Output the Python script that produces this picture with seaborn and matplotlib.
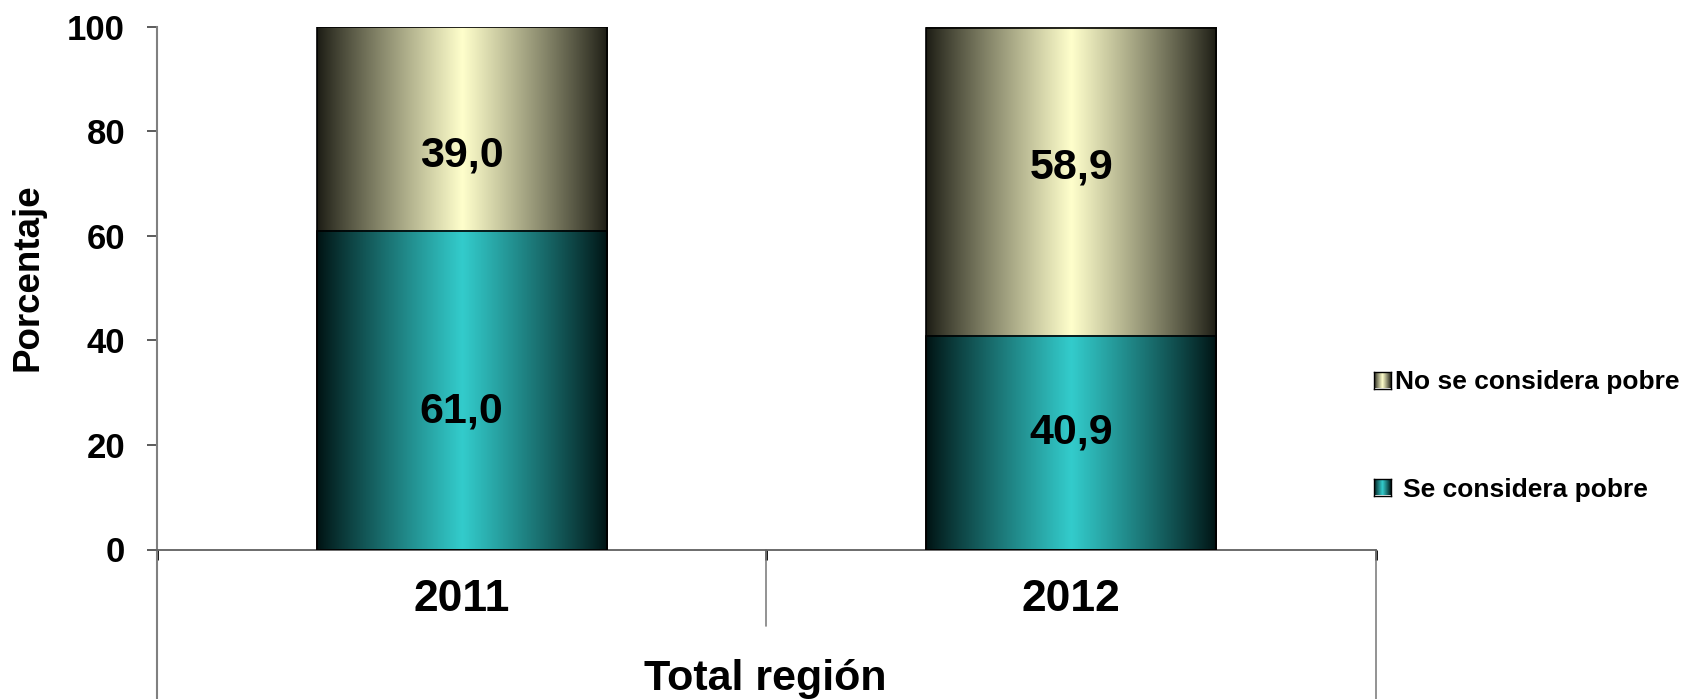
import numpy as np
import pandas as pd
import matplotlib
matplotlib.use("Agg")
import matplotlib.pyplot as plt
import seaborn as sns
from matplotlib.colors import to_rgb


# data
years = ["2011", "2012"]
se_considera = [61.0, 40.9]
no_se_considera = [39.0, 58.9]
series_names = ["No se considera pobre", "Se considera pobre"]
y_ticks = [0, 20, 40, 60, 80, 100]
group_label = "Total región"
value_labels = [["61,0", "39,0"], ["40,9", "58,9"]]

# colours (centre of the "cylinder" and its dark edge)
teal, teal_edge = "#33CCCC", "#001212"
cream, cream_edge = "#FFFFCC", "#1c1c14"


def gradient(center, edge, n=256):
    t = np.linspace(0, 1, n)
    f = (1 - np.abs(2 * t - 1)) ** 0.9
    c = np.array(to_rgb(center))
    e = np.array(to_rgb(edge))
    return (e[None, :] + f[:, None] * (c - e)[None, :])[None, :, :]


sns.set_style("white")
plt.rcParams["font.family"] = ["Liberation Sans", "DejaVu Sans"]
plt.rcParams["text.color"] = "black"
plt.rcParams["xtick.color"] = "black"
plt.rcParams["ytick.color"] = "black"
plt.rcParams["xtick.labelcolor"] = "black"
plt.rcParams["ytick.labelcolor"] = "black"

W, H = 1686, 699
fig = plt.figure(figsize=(W / 100, H / 100), dpi=100)
ax = fig.add_axes([157 / W, 1 - 549.5 / H, 1219 / W, 522.6 / H])

df = pd.DataFrame({"year": years, "pobre": se_considera, "no_pobre": no_se_considera})
df["total"] = df["pobre"] + df["no_pobre"]

# stacked bars: draw the totals first, then the bottom segment on top
sns.barplot(data=df, x="year", y="total", color=cream, width=0.476, errorbar=None, ax=ax)
sns.barplot(data=df, x="year", y="pobre", color=teal, width=0.476, errorbar=None, ax=ax)

top_patches = ax.patches[:2]
bottom_patches = ax.patches[2:4]
for patches, c, e, z in [(top_patches, cream, cream_edge, 1), (bottom_patches, teal, teal_edge, 2)]:
    img = gradient(c, e)
    for p in patches:
        x0, y0, w, h = p.get_x(), p.get_y(), p.get_width(), p.get_height()
        ax.imshow(img, extent=[x0, x0 + w, y0, y0 + h], aspect="auto",
                  zorder=z, interpolation="bilinear")
        p.set_facecolor("none")
        p.set_edgecolor("black")
        p.set_linewidth(1.2)
        p.set_zorder(3)

ax.set_xlim(-0.5, 1.5)
ax.set_ylim(0, 100)
ax.set_xlabel("")
ax.set_ylabel("")

# value labels inside the segments
shift = [[-3.2, -4.4], [2.8, 3.5]]
for i in range(len(years)):
    mids = [se_considera[i] / 2, se_considera[i] + no_se_considera[i] / 2]
    for j in range(2):
        ax.text(i, mids[j] + shift[i][j] - 0.8, value_labels[i][j], ha="center", va="center",
                fontsize=31, fontweight="bold", color="black", zorder=5)

# y axis
ax.set_yticks(y_ticks)
ax.set_yticklabels([str(v) for v in y_ticks], fontsize=25, fontweight="bold")
ax.tick_params(axis="y", direction="out", length=7, width=1.2, color="#404040", pad=16, left=True)

# x axis: category labels + separators
ax.set_xticks([0, 1])
ax.set_xticklabels(years, fontsize=32, fontweight="bold")
ax.tick_params(axis="x", which="major", length=0, pad=21)
ax.set_xticks([-0.5, 0.5, 1.5], minor=True)
ax.tick_params(axis="x", which="minor", direction="out", length=7, width=2, color="black", bottom=True)

for s in ["top", "right"]:
    ax.spines[s].set_visible(False)
ax.spines["left"].set_color("#808080")
ax.spines["left"].set_linewidth(1.5)
ax.spines["bottom"].set_color("#606060")
ax.spines["bottom"].set_linewidth(1.3)

ax.axvline(-0.5, ymin=-0.3, ymax=0, color="#808080", lw=1.5, clip_on=False)
ax.axvline(0.5, ymin=-0.146, ymax=0, color="#808080", lw=1.2, clip_on=False)
ax.axvline(1.5, ymin=-0.3, ymax=0, color="#808080", lw=1.2, clip_on=False)

fig.text(765 / W, 1 - 690 / H, group_label, ha="center", va="baseline",
         fontsize=31, fontweight="bold")
fig.text(28 / W, 1 - 277 / H, "Porcentaje", rotation=90, ha="center", va="center",
         fontsize=26.5, fontweight="bold")

# legend drawn by hand (gradient squares)
legend_rows = [(series_names[0], cream, cream_edge, 380, 1395),
               (series_names[1], teal, teal_edge, 487, 1403)]
for name, c, e, yc, xt in legend_rows:
    sq = fig.add_axes([1374 / W, 1 - (yc + 8.5) / H, 17 / W, 17 / H])
    sq.imshow(gradient(c, e), aspect="auto", extent=[0, 1, 0, 1])
    sq.set_xticks([])
    sq.set_yticks([])
    for sp in sq.spines.values():
        sp.set_color("black")
        sp.set_linewidth(1)
    fig.text(xt / W, 1 - (yc + 9.5) / H, name, ha="left", va="baseline",
             fontsize=19, fontweight="bold")

fig.savefig("out.png", dpi=100)
